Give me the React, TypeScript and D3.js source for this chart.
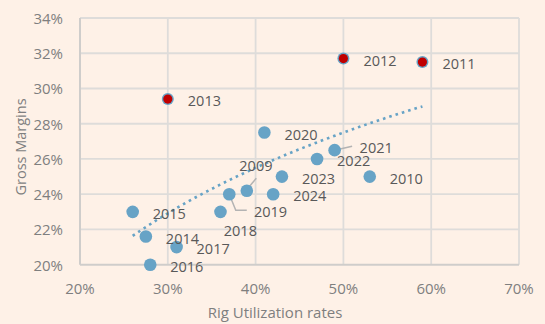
import React from "react";
import * as d3 from "d3";

const years = ["2009","2010","2011","2012","2013","2014","2015","2016","2017","2018","2019","2020","2021","2022","2023","2024"];
const rigUtilization = [0.39,0.53,0.59,0.50,0.30,0.275,0.26,0.28,0.31,0.36,0.37,0.41,0.49,0.47,0.43,0.42];
const grossMargins = [0.242,0.25,0.315,0.317,0.294,0.216,0.23,0.20,0.21,0.23,0.24,0.275,0.265,0.26,0.25,0.24];
const highlightedYears = ["2011","2012","2013"];
const xTicks = [0.2,0.3,0.4,0.5,0.6,0.7];
const yTicks = [0.2,0.22,0.24,0.26,0.28,0.3,0.32,0.34];

// label placement (pixels relative to point), layout only
const labelOffset: Record<string, [number, number]> = {
  "2009": [-7.5, -25.5],
  "2019": [24.7, 17.7],
  "2018": [3.3, 18.5],
  "2021": [25, -2.3],
};
const leaders: Record<string, [number, number][]> = {
  "2009": [[1.5, -3], [9.5, -12.5]],
  "2019": [[0, 0], [6.5, 16], [17.5, 16]],
  "2021": [[0, 0], [17.5, -4]],
};

const W = 545, H = 324;
const FONT = "'Open Sans', 'Noto Sans', sans-serif";

export default function App() {
  const x = d3.scaleLinear().domain([0.2, 0.7]).range([80, 519]);
  const y = d3.scaleLinear().domain([0.2, 0.34]).range([264.7, 18]);

  const pts = years.map((yr, i) => ({ yr, xv: rigUtilization[i], yv: grossMargins[i] }));

  // logarithmic trendline
  const lx = pts.map((p) => Math.log(p.xv));
  const mx = d3.mean(lx)!;
  const my = d3.mean(pts, (p) => p.yv)!;
  let sxy = 0, sxx = 0;
  pts.forEach((p, i) => { sxy += (lx[i] - mx) * (p.yv - my); sxx += (lx[i] - mx) ** 2; });
  const b = sxy / sxx;
  const a = my - b * mx;
  const [xmin, xmax] = d3.extent(rigUtilization) as [number, number];
  const trendX = d3.range(0, 61).map((k) => xmin + ((xmax - xmin) * k) / 60);
  const trendPath = d3.line<number>().x((v) => x(v)).y((v) => y(a + b * Math.log(v)))(trendX)!;

  const gridColor = "#DEDCDA";
  const axisColor = "#CFCDCB";
  const tickColor = "#7F7F7F";
  const blue = "#67A3C6";

  return (
    <svg width={W} height={H} style={{ position: "absolute", left: 0, top: 0, background: "#FEF1E7" }} fontFamily={FONT}>
      <rect width={W} height={H} fill="#FEF1E7" />
      {/* grid */}
      {xTicks.slice(1).map((t) => (
        <line key={"gx" + t} x1={x(t)} x2={x(t)} y1={y(0.34)} y2={y(0.2)} stroke={gridColor} strokeWidth={1.8} />
      ))}
      {yTicks.slice(1).map((t) => (
        <line key={"gy" + t} x1={x(0.2)} x2={x(0.7)} y1={y(t)} y2={y(t)} stroke={gridColor} strokeWidth={1.8} />
      ))}
      {/* axes */}
      <line x1={x(0.2)} x2={x(0.2)} y1={y(0.34)} y2={y(0.2)} stroke={axisColor} strokeWidth={2} />
      <line x1={x(0.2)} x2={x(0.7)} y1={y(0.2)} y2={y(0.2)} stroke={axisColor} strokeWidth={2} />
      {/* tick labels */}
      {yTicks.map((t) => (
        <text key={"ty" + t} x={63} y={y(t)} textAnchor="end" dominantBaseline="central" fontSize={15} fill={tickColor}>
          {d3.format(".0%")(t)}
        </text>
      ))}
      {xTicks.map((t) => (
        <text key={"tx" + t} x={x(t)} y={288} textAnchor="middle" dominantBaseline="central" fontSize={15} fill={tickColor}>
          {d3.format(".0%")(t)}
        </text>
      ))}
      {/* axis titles */}
      <text x={275} y={311.5} textAnchor="middle" dominantBaseline="central" fontSize={15} fill={tickColor}>Rig Utilization rates</text>
      <text transform={`translate(20,147) rotate(-90)`} textAnchor="middle" dominantBaseline="central" fontSize={14.5} fill={tickColor}>Gross Margins</text>
      {/* leader lines */}
      {pts.filter((p) => leaders[p.yr]).map((p) => (
        <polyline key={"ld" + p.yr}
          points={leaders[p.yr].map(([dx, dy]) => `${x(p.xv) + dx},${y(p.yv) + dy}`).join(" ")}
          fill="none" stroke="#B3B3B3" strokeWidth={1.5} />
      ))}
      {/* trendline */}
      <path d={trendPath} fill="none" stroke={blue} strokeWidth={2.6} strokeDasharray="2.6 4" />
      {/* points */}
      {pts.map((p) => highlightedYears.includes(p.yr) ? (
        <g key={"p" + p.yr}>
          <circle cx={x(p.xv)} cy={y(p.yv)} r={6} fill={blue} />
          <circle cx={x(p.xv)} cy={y(p.yv)} r={4.6} fill="#C00000" />
        </g>
      ) : (
        <circle key={"p" + p.yr} cx={x(p.xv)} cy={y(p.yv)} r={6.3} fill={blue} />
      ))}
      {/* labels */}
      {pts.map((p) => {
        const [dx, dy] = labelOffset[p.yr] ?? [20, 1.5];
        return (
          <text key={"l" + p.yr} x={x(p.xv) + dx} y={y(p.yv) + dy} dominantBaseline="central" fontSize={14.5} fill="#595959">
            {p.yr}
          </text>
        );
      })}
    </svg>
  );
}
